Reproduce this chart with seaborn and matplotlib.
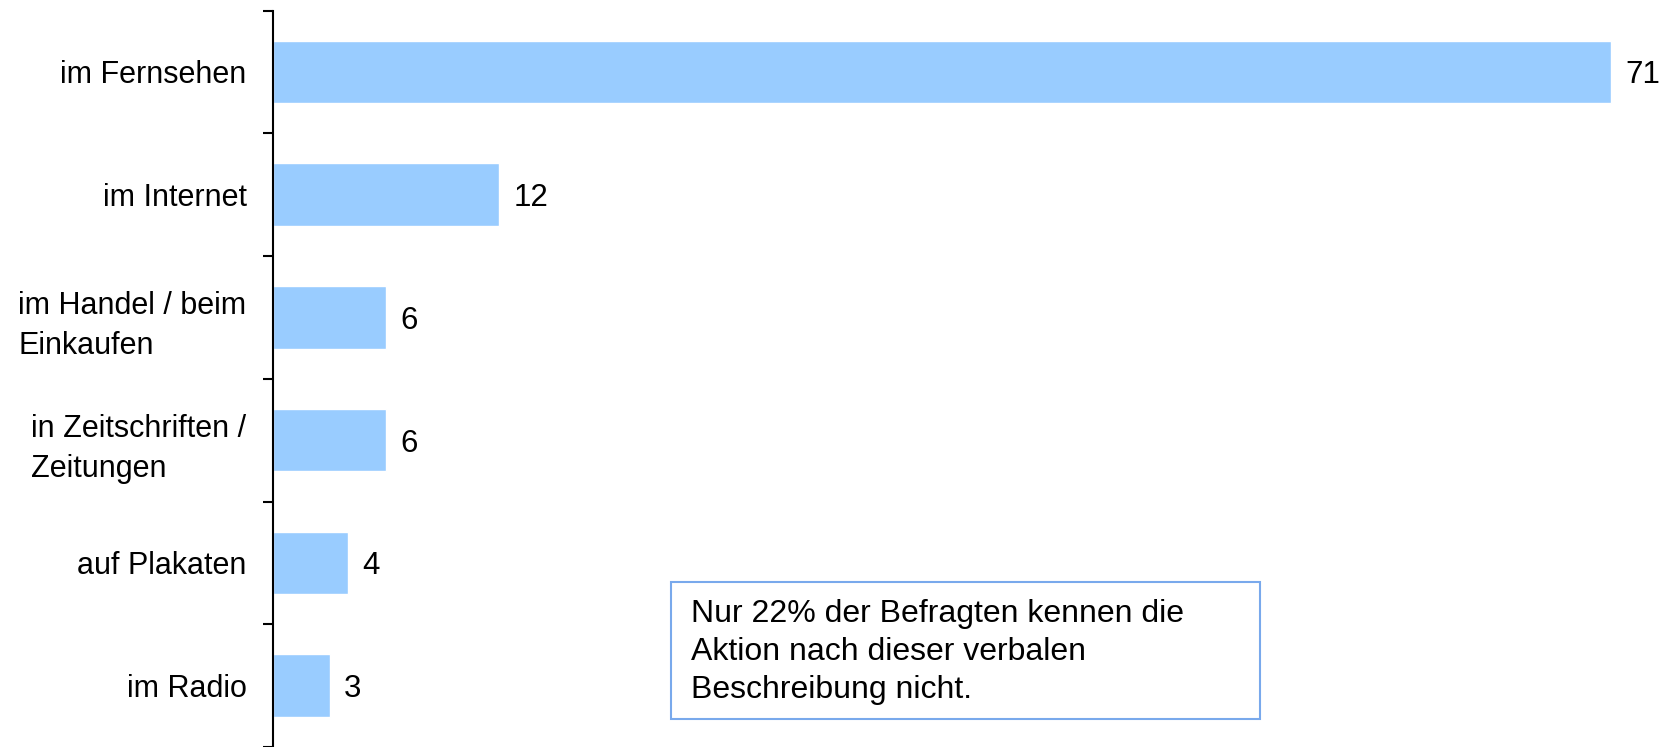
import matplotlib
matplotlib.use("Agg")
import matplotlib.pyplot as plt
from matplotlib.patches import Rectangle
import seaborn as sns
import numpy as np
import pandas as pd

categories = ["im Fernsehen", "im Internet", "im Handel / beim\nEinkaufen",
              "in Zeitschriften /\nZeitungen", "auf Plakaten", "im Radio"]
values = [71, 12, 6, 6, 4, 3]
note = "Nur 22% der Befragten kennen die\nAktion nach dieser verbalen\nBeschreibung nicht."

sns.set_style("white")
plt.rcParams["font.family"] = ["Liberation Sans", "DejaVu Sans"]
plt.rcParams["text.color"] = "black"
plt.rcParams["ytick.color"] = "black"

df = pd.DataFrame({"Quelle": categories, "Wert": values})

fig = plt.figure(figsize=(16.65, 7.47), dpi=100)
ax = fig.add_axes([273 / 1665, 0.0, 1 - 273 / 1665, 0.9858])

sns.barplot(data=df, y="Quelle", x="Wert", orient="h", color="#99CCFF",
            width=0.51, saturation=1, ax=ax)

ax.set_xlim(0, 73.85)
ax.set_ylim(len(categories) - 0.5, -0.5)

# value labels
for i, v in enumerate(values):
    ax.annotate(str(v), (v, i), xytext=(14, 0), textcoords="offset pixels",
                va="center_baseline", ha="left", fontsize=22.5, color="black")

# axis styling
for s in ["top", "right", "bottom"]:
    ax.spines[s].set_visible(False)
ax.spines["left"].set_color("black")
ax.spines["left"].set_linewidth(1.5)
ax.set_xticks([])
ax.set_xlabel("")
ax.set_ylabel("")
ax.set_yticks(range(len(categories)))
ax.set_yticklabels(categories, fontsize=22, linespacing=1.45, color="black")
ax.set_yticks(np.arange(-0.5, len(categories), 1.0), minor=True)
ax.tick_params(axis="y", which="major", length=0, pad=19)
ax.tick_params(axis="y", which="minor", length=7.5, width=1.5, color="black",
               direction="out", left=True)
for lab in ax.get_yticklabels():
    lab.set_multialignment("left")

# note box
ax.add_patch(Rectangle((0.286, 0.038), 0.423, 0.186, transform=ax.transAxes,
                       facecolor="white", edgecolor="#79A9EC", linewidth=1.5,
                       clip_on=False, zorder=3))
ax.text(0.300, 0.129, note, transform=ax.transAxes, fontsize=23,
        va="center", ha="left", linespacing=1.33, color="black", zorder=4)

plt.savefig("out.png", dpi=100)
plt.close()
